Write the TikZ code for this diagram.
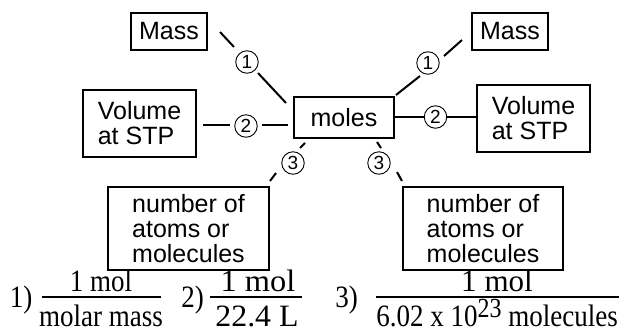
\documentclass[tikz,border=0pt]{standalone}
\usepackage{fontspec}
\usepackage{graphicx}
\setmainfont{Liberation Serif}
\setsansfont{Liberation Sans}
\newcommand\myscl[2]{\scalebox{#1}[1.15]{#2}}
\begin{document}
\begin{tikzpicture}[x=1pt,y=-1pt,
  box/.style={draw, line width=2.2pt, rectangle, inner sep=0pt,
    font=\sffamily\fontsize{25}{25}\selectfont, align=left},
  lnk/.style={line width=2pt},
  circ/.style={circle, draw, line width=0.9pt, minimum size=22.5pt, inner sep=0pt,
    font=\sffamily\fontsize{19}{19}\selectfont},
  fr/.style={font=\fontsize{27}{27}\selectfont, inner sep=0pt, anchor=base},
  bar/.style={line width=1.4pt}]
\useasboundingbox (0,0) rectangle (620,335);
% boxes
\node[box, minimum width=76, minimum height=37] (massL) at (169,31.5) {Mass};
\node[box, minimum width=76, minimum height=37] (massR) at (510,31.5) {Mass};
\node[box, minimum width=113, minimum height=67] (volL) at (139.5,123.5) {Volume\\at STP};
\node[box, minimum width=100, minimum height=41] (moles) at (344,117.5) {moles};
\node[box, minimum width=113, minimum height=67] (volR) at (533.5,118.5) {Volume\\at STP};
\node[box, minimum width=161, minimum height=83] (numL) at (188.5,228.5) {number of\\atoms or\\molecules};
\node[box, minimum width=160, minimum height=83] (numR) at (483,228.5) {number of\\atoms or\\molecules};
% left (1)
\coordinate (p1a) at (220,32); \coordinate (p1b) at (234,47);
\coordinate (p1c) at (258,73); \coordinate (p1d) at (286,103);
\draw[lnk] (p1a) -- (p1b); \draw[lnk] (p1c) -- (p1d);
\node[circ] (l1) at (247,62) {1};
% right (1)
\coordinate (q1a) at (396,95); \coordinate (q1b) at (420,76);
\coordinate (q1c) at (444,56); \coordinate (q1d) at (462,40);
\draw[lnk] (q1a) -- (q1b); \draw[lnk] (q1c) -- (q1d);
\node[circ] (r1) at (428,63) {1};
% left (2)
\coordinate (p2a) at (203,125); \coordinate (p2b) at (230,125);
\coordinate (p2c) at (262,125); \coordinate (p2d) at (288,125);
\draw[lnk] (p2a) -- (p2b); \draw[lnk] (p2c) -- (p2d);
\node[circ] (l2) at (246,126) {2};
% right (2)
\draw[lnk] (moles.east |- 0,117) -- node[circ, fill=white] (r2) {2} (volR.west |- 0,117);
% left (3)
\coordinate (r3a) at (305,143); \coordinate (r3b) at (300,148);
\coordinate (r3c) at (276,173); \coordinate (r3d) at (270,181);
\draw[lnk] (r3a) -- (r3b); \draw[lnk] (r3c) -- (r3d);
\node[circ] (l3) at (293,163) {3};
% right (3)
\coordinate (s3a) at (377,142); \coordinate (s3b) at (381,148);
\coordinate (s3c) at (397,172); \coordinate (s3d) at (402,181);
\draw[lnk] (s3a) -- (s3b); \draw[lnk] (s3c) -- (s3d);
\node[circ] (rr3) at (379,163) {3};
% formulas
\node[fr] (k1) at (21,307) {\myscl{1}{1)}};
\node[fr] (n1) at (101,291) {\myscl{1}{1 mol}};
\node[fr] (d1) at (101,326) {\myscl{1}{molar mass}};
\coordinate (b1a) at (42,297); \coordinate (b1b) at (161,297);
\draw[bar] (b1a) -- (b1b);
\node[fr] (k2) at (192.5,307) {\myscl{1}{2)}};
\node[fr] (n2) at (258,291) {\myscl{1.2}{1 mol}};
\node[fr] (d2) at (257,326) {\myscl{1.18}{22.4 L}};
\coordinate (b2a) at (210,297); \coordinate (b2b) at (302,297);
\draw[bar] (b2a) -- (b2b);
\node[fr] (k3) at (346.5,307) {\myscl{1}{3)}};
\node[fr] (n3) at (497,291) {\myscl{1.15}{1 mol}};
\node[fr] (d3) at (497,326) {\myscl{1}{6.02 x 10\raisebox{7pt}{\fontsize{24}{24}\selectfont 23} molecules}};
\coordinate (b3a) at (376,297); \coordinate (b3b) at (619,297);
\draw[bar] (b3a) -- (b3b);
\end{tikzpicture}
\end{document}
